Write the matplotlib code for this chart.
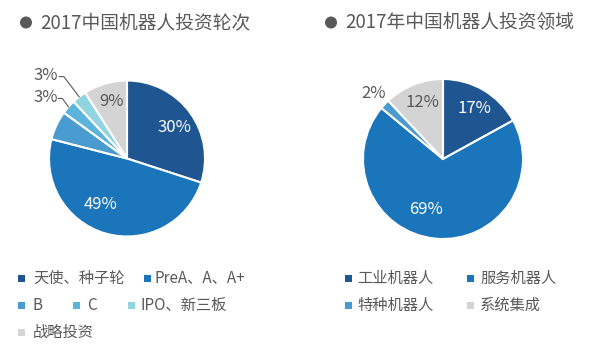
import numpy as np
import matplotlib
matplotlib.use("Agg")
import matplotlib.pyplot as plt
from matplotlib.patches import Rectangle, Ellipse

plt.rcParams['font.family'] = ['Noto Sans CJK SC', 'DejaVu Sans']

# ---- data ----
left_title = "2017中国机器人投资轮次"
left_labels = ["天使、种子轮", "PreA、A、A+", "B", "C", "IPO、新三板", "战略投资"]
left_values = [30, 49, 6, 3, 3, 9]
left_colors = ["#1f5591", "#1a75bb", "#4a9bd0", "#5cb4dc", "#8fd4e0", "#d4d4d4"]

right_title = "2017年中国机器人投资领域"
right_labels = ["工业机器人", "服务机器人", "特种机器人", "系统集成"]
right_values = [17, 69, 2, 12]
right_colors = ["#1f5591", "#1a75bb", "#4a9bd0", "#d4d4d4"]

W, H = 601, 352
fig = plt.figure(figsize=(W / 100, H / 100), dpi=100)
fig.patch.set_facecolor("white")

def fx(x):
    return x / W

def fy(y):
    return 1 - y / H

TXT = "#595959"

def pie_axes(cx, cy, r):
    ax = fig.add_axes([fx(cx - r), fy(cy + r), 2 * r / W, 2 * r / H])
    ax.set_xlim(-1, 1)
    ax.set_ylim(-1, 1)
    ax.axis("off")
    return ax

def draw_pie(ax, values, colors):
    wedges, _ = ax.pie(values, colors=colors, startangle=90, counterclock=False,
                       radius=1, center=(0, 0),
                       wedgeprops=dict(edgecolor="white", linewidth=1.5))
    ax.set_xlim(-1, 1)
    ax.set_ylim(-1, 1)
    ax.set_aspect("auto")
    return wedges

def mid_angle(w):
    return np.deg2rad((w.theta1 + w.theta2) / 2)

# ---- left pie ----
axL = pie_axes(127, 158.5, 78)
wL = draw_pie(axL, left_values, left_colors)
# inner labels: (index, radius, angle nudge deg, color)
for i, r, nudge, col in [(0, 0.72, -3, "white"), (1, 0.68, -14, "white"), (5, 0.76, -1, TXT)]:
    a = mid_angle(wL[i]) + np.deg2rad(nudge)
    axL.text(r * np.cos(a), r * np.sin(a), f"{left_values[i]}%", color=col,
             fontsize=12, ha="center", va="center")
# outside labels with leader lines (IPO upper, C lower)
for i, lx, ly, hx in [(4, -0.88, 1.06, -0.81), (3, -0.89, 0.78, -0.83)]:
    a = mid_angle(wL[i])
    ex, ey = np.cos(a), np.sin(a)
    axL.text(lx, ly, f"{left_values[i]}%", color=TXT, fontsize=12,
             ha="right", va="center", clip_on=False)
    axL.plot([lx + 0.01, hx, ex], [ly - 0.01, ly - 0.01, ey], color=TXT,
             lw=0.8, clip_on=False)

# ---- right pie ----
axR = pie_axes(443, 159, 80)
wR = draw_pie(axR, right_values, right_colors)
for i, r, nudge, col in [(0, 0.74, -1, "white"), (1, 0.67, -13, "white"), (3, 0.75, -2, TXT)]:
    a = mid_angle(wR[i]) + np.deg2rad(nudge)
    axR.text(r * np.cos(a), r * np.sin(a), f"{right_values[i]}%", color=col,
             fontsize=12, ha="center", va="center")
a = mid_angle(wR[2])
axR.text(1.19 * np.cos(a), 1.19 * np.sin(a), f"{right_values[2]}%", color=TXT,
         fontsize=12, ha="center", va="center", clip_on=False)

# ---- titles ----
for bx, tx, t in [(26, 40, left_title), (331, 345, right_title)]:
    fig.patches.append(Ellipse((fx(bx), fy(22.5)), 12 / W, 12 / H,
                               transform=fig.transFigure,
                               facecolor="#595959", edgecolor="none"))
    fig.text(fx(tx), fy(22.5), t, fontsize=13.5, color=TXT, ha="left", va="center")

# ---- legends ----
def legend_item(mx, my, tx, label, color):
    s = 7
    fig.patches.append(Rectangle((fx(mx - s / 2), fy(my + s / 2)), s / W, s / H,
                                 transform=fig.transFigure, facecolor=color,
                                 edgecolor="none"))
    fig.text(fx(tx), fy(my), label, fontsize=11, color=TXT, ha="left", va="center")

left_pos = [(21.5, 278, 33), (147.5, 278, 155),
            (21.5, 305, 33), (76.5, 305, 87), (131.5, 305, 140),
            (21.5, 332, 33)]
for (mx, my, tx), lab, c in zip(left_pos, left_labels, left_colors):
    legend_item(mx, my, tx, lab, c)

right_pos = [(348.5, 278, 357), (470, 278, 480), (348.5, 305, 357), (470, 305, 480)]
for (mx, my, tx), lab, c in zip(right_pos, right_labels, right_colors):
    legend_item(mx, my, tx, lab, c)

fig.savefig("out.png", dpi=100, facecolor="white")
